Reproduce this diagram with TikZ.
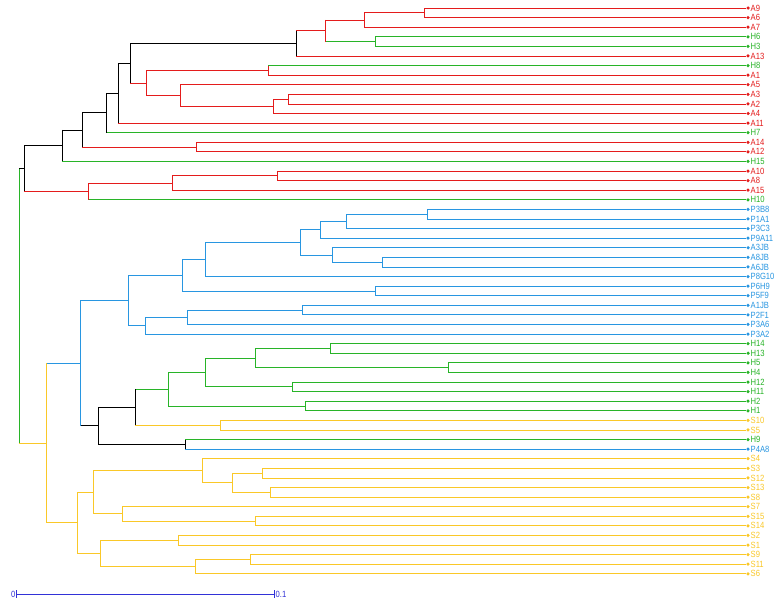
\documentclass[tikz,border=0pt]{standalone}
\usepackage{fontspec}
\setsansfont{Liberation Sans}
\newfontfamily\labfont{Liberation Sans}[FakeStretch=0.85]
\usepackage{xcolor}
\usepackage{tikz}
\usetikzlibrary{calc}
\definecolor{clRed}{RGB}{228,28,28}
\definecolor{clGreen}{RGB}{40,180,40}
\definecolor{clBlue}{RGB}{40,150,225}
\definecolor{clYellow}{RGB}{250,200,40}
\definecolor{clBar}{RGB}{50,50,215}
\tikzset{
  dot/.style={circle, inner sep=0pt, minimum size=3.5pt},
  lab/.style={font=\labfont\fontsize{9}{9}\selectfont, inner sep=0.5pt},
  br/.style={line width=0.8pt},
  barline/.style={clBar, line width=0.8pt, |-|},
}
% leaf: name, row, colour
\newcommand{\leaf}[3]{%
  \expandafter\def\csname dcol#1\endcsname{#3}%
  \node[dot, fill=#3, label={[lab, text=#3]right:#1}] (#1) at (748,{8+9.59*#2}) {};}
% join: name, x, colour, upper child, lower child
\newcommand{\join}[5]{%
  \expandafter\def\csname dcol#1\endcsname{#3}%
  \coordinate (mid) at ($(#4)!0.5!(#5)$);
  \coordinate (xr) at (#2,0);
  \coordinate (#1) at (xr |- mid);
  \edef\colA{\csname dcol#4\endcsname}%
  \edef\colB{\csname dcol#5\endcsname}%
  \draw[br, color=\colA] (#1 |- #4) -- (#4);
  \draw[br, color=\colB] (#1 |- #5) -- (#5);
  \draw[br, color=#3] (#1 |- #4) -- (#1 |- #5);}

\begin{document}
\begin{tikzpicture}[x=1pt,y=-1pt]
\useasboundingbox (0,0) rectangle (774,606);
\fill[white] (0,0) rectangle (774,606);
% leaves
\leaf{A9}{0}{clRed} \leaf{A6}{1}{clRed} \leaf{A7}{2}{clRed}
\leaf{H6}{3}{clGreen} \leaf{H3}{4}{clGreen} \leaf{A13}{5}{clRed}
\leaf{H8}{6}{clGreen} \leaf{A1}{7}{clRed} \leaf{A5}{8}{clRed}
\leaf{A3}{9}{clRed} \leaf{A2}{10}{clRed} \leaf{A4}{11}{clRed}
\leaf{A11}{12}{clRed} \leaf{H7}{13}{clGreen} \leaf{A14}{14}{clRed}
\leaf{A12}{15}{clRed} \leaf{H15}{16}{clGreen} \leaf{A10}{17}{clRed}
\leaf{A8}{18}{clRed} \leaf{A15}{19}{clRed} \leaf{H10}{20}{clGreen}
\leaf{P3B8}{21}{clBlue} \leaf{P1A1}{22}{clBlue} \leaf{P3C3}{23}{clBlue}
\leaf{P9A11}{24}{clBlue} \leaf{A3JB}{25}{clBlue} \leaf{A8JB}{26}{clBlue}
\leaf{A6JB}{27}{clBlue} \leaf{P8G10}{28}{clBlue} \leaf{P6H9}{29}{clBlue}
\leaf{P5F9}{30}{clBlue} \leaf{A1JB}{31}{clBlue} \leaf{P2F1}{32}{clBlue}
\leaf{P3A6}{33}{clBlue} \leaf{P3A2}{34}{clBlue}
\leaf{H14}{35}{clGreen} \leaf{H13}{36}{clGreen} \leaf{H5}{37}{clGreen}
\leaf{H4}{38}{clGreen} \leaf{H12}{39}{clGreen} \leaf{H11}{40}{clGreen}
\leaf{H2}{41}{clGreen} \leaf{H1}{42}{clGreen}
\leaf{S10}{43}{clYellow} \leaf{S5}{44}{clYellow}
\leaf{H9}{45}{clGreen} \leaf{P4A8}{46}{clBlue}
\leaf{S4}{47}{clYellow} \leaf{S3}{48}{clYellow} \leaf{S12}{49}{clYellow}
\leaf{S13}{50}{clYellow} \leaf{S8}{51}{clYellow} \leaf{S7}{52}{clYellow}
\leaf{S15}{53}{clYellow} \leaf{S14}{54}{clYellow} \leaf{S2}{55}{clYellow}
\leaf{S1}{56}{clYellow} \leaf{S9}{57}{clYellow} \leaf{S11}{58}{clYellow}
\leaf{S6}{59}{clYellow}
% upper clade
\join{n1}{424}{clRed}{A9}{A6}
\join{n2}{364}{clRed}{n1}{A7}
\join{n3}{375}{clGreen}{H6}{H3}
\join{n4}{325}{clRed}{n2}{n3}
\join{n5}{296}{black}{n4}{A13}
\join{n6}{268}{clRed}{H8}{A1}
\join{n7}{288}{clRed}{A3}{A2}
\join{n8}{273}{clRed}{n7}{A4}
\join{n9}{180}{clRed}{A5}{n8}
\join{n10}{146}{clRed}{n6}{n9}
\join{n11}{130}{black}{n5}{n10}
\join{n12}{118}{black}{n11}{A11}
\join{n13}{106}{black}{n12}{H7}
\join{n14}{196}{clRed}{A14}{A12}
\join{n15}{82}{black}{n13}{n14}
\join{n16}{62}{black}{n15}{H15}
\join{n17}{277}{clRed}{A10}{A8}
\join{n18}{172}{clRed}{n17}{A15}
\join{n19}{88}{clRed}{n18}{H10}
\join{n20}{24}{black}{n16}{n19}
% blue clade
\join{b1}{427}{clBlue}{P3B8}{P1A1}
\join{b2}{346}{clBlue}{b1}{P3C3}
\join{b3}{320}{clBlue}{b2}{P9A11}
\join{b4}{382}{clBlue}{A8JB}{A6JB}
\join{b5}{332}{clBlue}{A3JB}{b4}
\join{b6}{300}{clBlue}{b3}{b5}
\join{b7}{205}{clBlue}{b6}{P8G10}
\join{b8}{375}{clBlue}{P6H9}{P5F9}
\join{b9}{182}{clBlue}{b7}{b8}
\join{b10}{302}{clBlue}{A1JB}{P2F1}
\join{b11}{187}{clBlue}{b10}{P3A6}
\join{b12}{145}{clBlue}{b11}{P3A2}
\join{b13}{128}{clBlue}{b9}{b12}
% green clade
\join{g1}{330}{clGreen}{H14}{H13}
\join{g2}{448}{clGreen}{H5}{H4}
\join{g3}{255}{clGreen}{g1}{g2}
\join{g4}{292}{clGreen}{H12}{H11}
\join{g5}{305}{clGreen}{H2}{H1}
\join{g6}{205}{clGreen}{g3}{g4}
\join{g7}{168}{clGreen}{g6}{g5}
\join{y1}{220}{clYellow}{S10}{S5}
\join{m1}{135}{black}{g7}{y1}
\join{m2}{185}{black}{H9}{P4A8}
\join{m3}{98}{black}{m1}{m2}
\join{m4}{80}{clBlue}{b13}{m3}
% yellow clade
\join{s1}{262}{clYellow}{S3}{S12}
\join{s2}{270}{clYellow}{S13}{S8}
\join{s3}{232}{clYellow}{s1}{s2}
\join{s4}{202}{clYellow}{S4}{s3}
\join{s5}{255}{clYellow}{S15}{S14}
\join{s6}{122}{clYellow}{S7}{s5}
\join{s7}{93}{clYellow}{s4}{s6}
\join{s8}{178}{clYellow}{S2}{S1}
\join{s9}{250}{clYellow}{S9}{S11}
\join{s10}{195}{clYellow}{s9}{S6}
\join{s11}{100}{clYellow}{s8}{s10}
\join{s12}{77}{clYellow}{s7}{s11}
\join{s13}{46}{clYellow}{m4}{s12}
\join{root}{19}{clGreen}{n20}{s13}
% scale bar
\coordinate (bar0) at (16,594);
\coordinate (bar1) at (275,594);
\draw[barline] (bar0) -- (bar1);
\node[lab, text=clBar, left] (z0) at (bar0) {0};
\node[lab, text=clBar, right] (z1) at (bar1) {0.1};
\end{tikzpicture}
\end{document}
